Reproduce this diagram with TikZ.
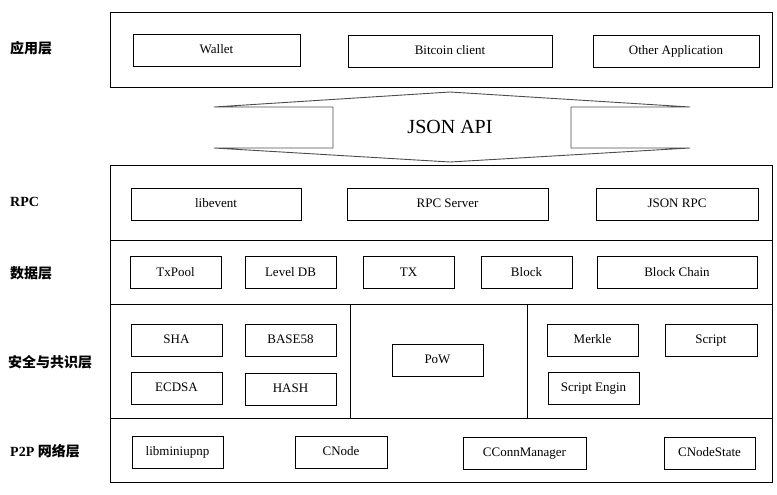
\documentclass[tikz,border=0pt]{standalone}
\usepackage{fontspec}
\setmainfont{Liberation Serif}
\newfontfamily\cjk{Noto Sans CJK SC Bold}
\usepackage{tikz}

\begin{document}
\begin{tikzpicture}[x=1pt,y=-1pt,
	box/.style={draw, line width=0.9pt, minimum height=32, inner sep=0pt, text height=9.5pt, text depth=2.5pt, font=\fontsize{13}{15}\selectfont},
	lab/.style={anchor=west, inner sep=0pt, font=\bfseries\fontsize{14}{16}\selectfont},
	frame/.style={line width=0.9pt}]
	\useasboundingbox (0,0) rectangle (777,495);
	\draw [frame] (110,12) rectangle (772,87);
	\draw [frame] (110,165) rectangle (772,482);
	\draw [frame] (110,240) -- (772,240);
	\draw [frame] (110,304) -- (772,304);
	\draw [frame] (110,418) -- (772,418);
	\draw [frame] (350,304) -- (350,418);
	\draw [frame] (527,304) -- (527,418);
	\node[lab] (app) at (10,48) {\cjk 应用层};
	\node[lab] (rpc) at (10,202) {RPC};
	\node[lab] (data) at (10,273) {\cjk 数据层};
	\node[lab] (sec) at (8,362) {\cjk 安全与共识层};
	\node[lab] (p2p) at (10,451) {P2P {\cjk 网络层}};
	\node[box, minimum width=167] (wallet) at (216.5,50) {Wallet};
	\node[box, minimum width=204] (client) at (450,51) {Bitcoin client};
	\node[box, minimum width=166] (other) at (676,51) {Other Application};
	\draw [line width=0.9pt, draw=black!70] (214,107) -- (333,107) -- (333,148) -- (214,148) -- (450,162) -- (690,148) -- (571,148) -- (571,107) -- (690,107) -- (450,92) -- cycle;
	\node[font=\fontsize{20}{24}\selectfont] (api) at (450,127) {JSON API};
	\node[box, minimum width=170] (libevent) at (216,204) {libevent};
	\node[box, minimum width=201] (server) at (447.5,204) {RPC Server};
	\node[box, minimum width=162] (jsonrpc) at (677,204) {JSON RPC};
	\node[box, minimum width=91] (txpool) at (175.5,272.5) {TxPool};
	\node[box, minimum width=91] (leveldb) at (290.5,272.5) {Level DB};
	\node[box, minimum width=91] (tx) at (408.5,272.5) {TX};
	\node[box, minimum width=91] (block) at (526.5,272.5) {Block};
	\node[box, minimum width=160] (chain) at (677,272.5) {Block Chain};
	\node[box, minimum width=91] (sha) at (176.5,340) {SHA};
	\node[box, minimum width=91] (base58) at (290.5,340) {BASE58};
	\node[box, minimum width=91] (ecdsa) at (176.5,388) {ECDSA};
	\node[box, minimum width=91] (hash) at (290.5,389) {HASH};
	\node[box, minimum width=91] (pow) at (437.5,360) {PoW};
	\node[box, minimum width=91] (merkle) at (592.5,340) {Merkle};
	\node[box, minimum width=92] (script) at (711,340) {Script};
	\node[box, minimum width=91] (engin) at (593.5,388) {Script Engin};
	\node[box, minimum width=91] (upnp) at (177.5,452) {libminiupnp};
	\node[box, minimum width=92] (cnode) at (341,452) {CNode};
	\node[box, minimum width=123] (connman) at (524.5,453) {CConnManager};
	\node[box, minimum width=91] (nodestate) at (709.5,453) {CNodeState};
\end{tikzpicture}
\end{document}
